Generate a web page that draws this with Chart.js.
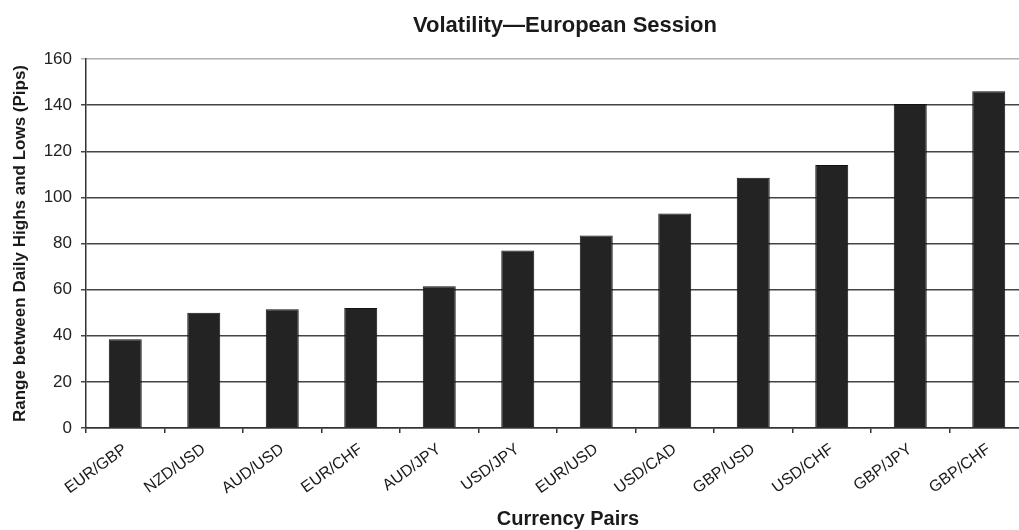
<!DOCTYPE html>
<html>
<head>
<meta charset="utf-8">
<script src="https://cdn.jsdelivr.net/npm/chart.js@4/dist/chart.umd.min.js"></script>
<style>
  html, body { margin: 0; padding: 0; background: #fff; overflow: hidden; }
  #wrap { width: 1130px; height: 530px; }
</style>
</head>
<body>
<div id="wrap"><canvas id="c" width="1130" height="530"></canvas></div>
<script>
// Average range between daily highs and lows during the European session (pips)
const pairs = ['EUR/GBP', 'NZD/USD', 'AUD/USD', 'EUR/CHF', 'AUD/JPY', 'USD/JPY',
               'EUR/USD', 'USD/CAD', 'GBP/USD', 'USD/CHF', 'GBP/JPY', 'GBP/CHF'];
const rangePips = [38.5, 50, 51.5, 52, 61.5, 77, 83.5, 93, 108.5, 114, 140.5, 146];
const yTicks = { min: 0, max: 160, step: 20 };

const titleText = 'Volatility\u2014European Session';
const xTitle = 'Currency Pairs';
const yTitle = 'Range between Daily Highs and Lows (Pips)';

const FONT = '"Liberation Sans", Arial, Helvetica, sans-serif';

// Chart title and x-axis title, centred on the full canvas width
const canvasTitles = {
  id: 'canvasTitles',
  afterDraw(chart) {
    const ctx = chart.ctx;
    const cx = chart.width / 2;
    ctx.save();
    ctx.fillStyle = '#1a1a1a';
    ctx.textAlign = 'center';
    ctx.textBaseline = 'middle';
    ctx.font = 'bold 22px ' + FONT;
    ctx.fillText(titleText, cx, 26);
    ctx.font = 'bold 20px ' + FONT;
    ctx.fillText(xTitle, cx + 3, 519);
    ctx.restore();
  }
};

new Chart(document.getElementById('c'), {
  type: 'bar',
  data: {
    labels: pairs,
    datasets: [{
      data: rangePips,
      backgroundColor: '#232323',
      borderColor: '#111111',
      borderWidth: 1,
      barPercentage: 0.42,
      categoryPercentage: 1.0
    }]
  },
  plugins: [canvasTitles],
  options: {
    responsive: false,
    animation: false,
    devicePixelRatio: 1,
    layout: { padding: { left: 0, right: 102, top: 59, bottom: 24 } },
    plugins: {
      legend: { display: false },
      tooltip: { enabled: false },
      title: { display: false }
    },
    scales: {
      x: {
        offset: true,
        grid: {
          display: true,
          offset: true,
          drawOnChartArea: false,
          drawTicks: true,
          tickLength: 5,
          color: '#333333',
          lineWidth: 1.5
        },
        border: { display: true, color: '#333333', width: 1.5 },
        ticks: {
          autoSkip: false,
          minRotation: 36,
          maxRotation: 36,
          padding: 7,
          color: '#1a1a1a',
          font: { family: FONT, size: 16 }
        },
        afterFit(scale) { scale.height = 78; }
      },
      y: {
        min: yTicks.min,
        max: yTicks.max,
        grid: {
          color: (ctx) => (ctx.tick && ctx.tick.value === yTicks.max) ? '#b0b0b0' : '#444444',
          lineWidth: 1.5,
          tickLength: 5,
          drawTicks: true
        },
        border: { display: true, color: '#333333', width: 1.5 },
        ticks: {
          stepSize: yTicks.step,
          padding: 9,
          color: '#222222',
          font: { family: FONT, size: 17 }
        },
        title: {
          display: true,
          text: yTitle,
          color: '#1a1a1a',
          font: { family: FONT, size: 17, weight: 'bold', lineHeight: 1.2 },
          padding: { top: 10, bottom: 0 }
        },
        afterFit(scale) { scale.width = 86; }
      }
    }
  }
});
</script>
</body>
</html>
